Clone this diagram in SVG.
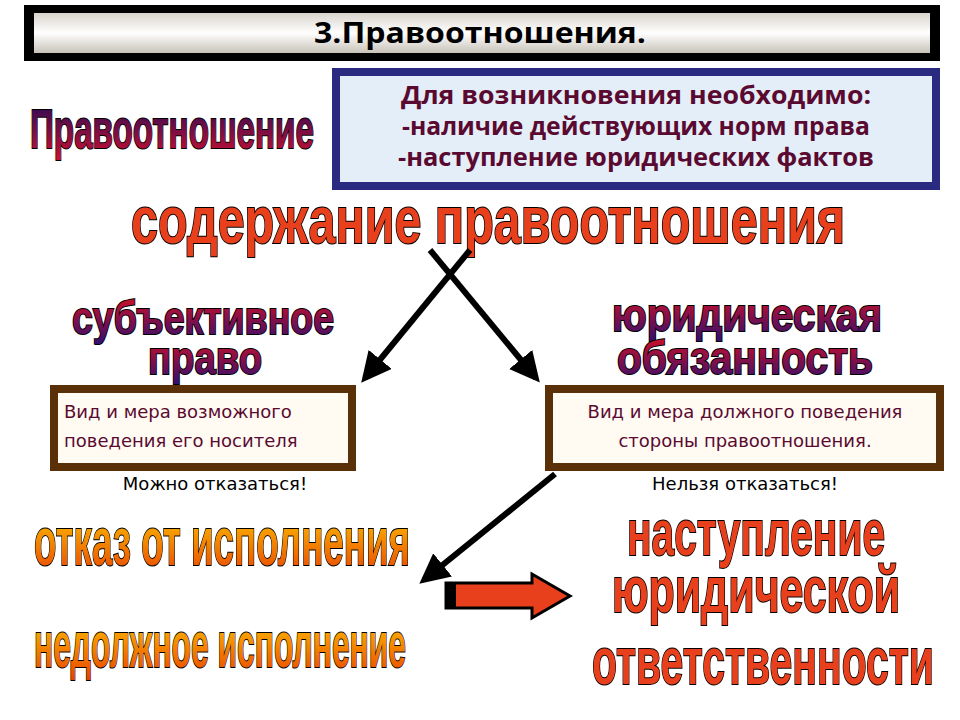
<svg xmlns="http://www.w3.org/2000/svg" width="960" height="720" viewBox="0 0 960 720">
<defs>
<linearGradient id="tg" x1="0" y1="0" x2="0" y2="1"><stop offset="0" stop-color="#d8d4cc"/><stop offset="0.5" stop-color="#ffffff"/><stop offset="1" stop-color="#c8c2b8"/></linearGradient>
<linearGradient id="pg" x1="0" y1="0" x2="0" y2="1"><stop offset="0" stop-color="#1a0a5a"/><stop offset="1" stop-color="#d01030"/></linearGradient>
<linearGradient id="sg" x1="0" y1="0" x2="0" y2="1"><stop offset="0" stop-color="#e01020"/><stop offset="1" stop-color="#301070"/></linearGradient>
<linearGradient id="og" x1="0" y1="0" x2="0" y2="1"><stop offset="0" stop-color="#ffd000"/><stop offset="1" stop-color="#e84000"/></linearGradient>
<marker id="ah" viewBox="0 0 10 10" refX="8" refY="5" markerWidth="5" markerHeight="5" orient="auto"><path d="M0,0 L10,5 L0,10 Z" fill="#000"/></marker>
<style>
.wa{font-family:"Liberation Sans",Arial,sans-serif;font-weight:bold;stroke:#000;stroke-width:2;paint-order:stroke;text-anchor:middle}
.red{fill:#e8401c}
.bt{font-family:"Open Sans","Liberation Sans",sans-serif;font-weight:bold;font-size:25px;fill:#5a0a30;text-anchor:middle}
.nt{font-family:"DejaVu Sans","Liberation Sans",sans-serif;font-size:18px;fill:#5a0a30}
.lt{font-family:"DejaVu Sans","Liberation Sans",sans-serif;font-size:18px;fill:#000;text-anchor:middle}
.ln{stroke:#000;stroke-width:6;fill:none;marker-end:url(#ah)}
</style>
</defs>
<rect width="960" height="720" fill="#fff"/>
<g id="title"><rect x="24" y="5" width="916" height="56" fill="#000"/><rect x="34" y="13" width="896" height="40" fill="url(#tg)"/>
<text x="480" y="43" text-anchor="middle" font-family="Open Sans,Liberation Sans,sans-serif" font-weight="bold" font-size="29" textLength="332" lengthAdjust="spacingAndGlyphs">3.Правоотношения.</text></g>
<g id="pravo"><text class="wa" x="172" y="148" font-size="56" fill="url(#pg)" textLength="284" lengthAdjust="spacingAndGlyphs">Правоотношение</text></g>
<g id="cond"><rect x="336" y="72" width="600" height="114" fill="#e4eef8" stroke="#2a2a80" stroke-width="8"/>
<text class="bt" x="636" y="104" textLength="470" lengthAdjust="spacingAndGlyphs">Для возникновения необходимо:</text>
<text class="bt" x="636" y="135" textLength="468" lengthAdjust="spacingAndGlyphs">-наличие действующих норм права</text>
<text class="bt" x="636" y="166" textLength="476" lengthAdjust="spacingAndGlyphs">-наступление юридических фактов</text></g>
<g id="content"><text class="wa red" x="488" y="243" font-size="66" textLength="714" lengthAdjust="spacingAndGlyphs">содержание правоотношения</text></g>
<g id="subj"><text class="wa" x="203" y="334" font-size="46" fill="url(#sg)" textLength="262" lengthAdjust="spacingAndGlyphs">субъективное</text>
<text class="wa" x="205" y="374" font-size="46" fill="url(#sg)" textLength="114" lengthAdjust="spacingAndGlyphs">право</text></g>
<g id="obl"><text class="wa" x="747" y="331" font-size="46" fill="url(#sg)" textLength="270" lengthAdjust="spacingAndGlyphs">юридическая</text>
<text class="wa" x="745" y="374" font-size="46" fill="url(#sg)" textLength="256" lengthAdjust="spacingAndGlyphs">обязанность</text></g>
<g id="lbox"><rect x="54" y="389" width="298" height="78" fill="#fffaf2" stroke="#5a3008" stroke-width="8"/>
<text class="nt" x="64" y="418">Вид и мера возможного</text><text class="nt" x="64" y="447">поведения его носителя</text></g>
<g id="rbox"><rect x="549" y="389" width="391" height="78" fill="#fffaf2" stroke="#5a3008" stroke-width="8"/>
<text class="nt" x="745" y="418" text-anchor="middle">Вид и мера должного поведения</text><text class="nt" x="745" y="447" text-anchor="middle">стороны правоотношения.</text></g>
<g id="labels"><text class="lt" x="215" y="490">Можно отказаться!</text><text class="lt" x="745" y="490">Нельзя отказаться!</text></g>
<g id="otkaz"><text class="wa" x="222" y="565" font-size="68" fill="url(#og)" textLength="376" lengthAdjust="spacingAndGlyphs">отказ от исполнения</text>
<text class="wa" x="220" y="667" font-size="64" fill="url(#og)" textLength="372" lengthAdjust="spacingAndGlyphs">недолжное исполнение</text></g>
<g id="otv"><text class="wa red" x="756" y="555" font-size="64" textLength="258" lengthAdjust="spacingAndGlyphs">наступление</text>
<text class="wa red" x="756" y="612" font-size="64" textLength="288" lengthAdjust="spacingAndGlyphs">юридической</text>
<text class="wa red" x="763" y="684" font-size="66" textLength="342" lengthAdjust="spacingAndGlyphs">ответственности</text></g>
<g id="connectors">
<line class="ln" x1="470" y1="250" x2="365" y2="378"/>
<line class="ln" x1="430" y1="250" x2="536" y2="378"/>
<line class="ln" x1="555" y1="474" x2="424" y2="580"/>
<path d="M446,583 H532 V574 L570,596 L532,618 V608 H446 Z" fill="#e8401c" stroke="#000" stroke-width="3"/>
<rect x="446" y="584" width="10" height="23" fill="#000"/>
</g>
</svg>
